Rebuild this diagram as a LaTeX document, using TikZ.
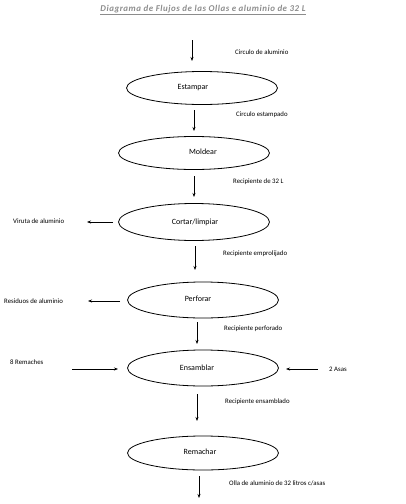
\documentclass[tikz,border=0pt]{standalone}
\usepackage{fontspec}
\setmainfont{Carlito}
\usetikzlibrary{shapes.geometric,arrows.meta}
\begin{document}
\begin{tikzpicture}[x=1pt,y=-1pt,
  proc/.style={draw,ellipse,line width=0.8pt,inner sep=0pt,minimum width=151pt,minimum height=33pt},
  ptext/.style={inner sep=0pt,font=\fontsize{8}{9}\selectfont},
  lbl/.style={anchor=west,inner sep=0pt,font=\fontsize{6.8}{8}\selectfont},
  flow/.style={line width=0.8pt,-{Stealth[length=4pt,width=3pt]}}]
\useasboundingbox (0,0) rectangle (406,504);
\node[inner sep=0pt,text=black!45,font=\fontsize{8.9}{10}\selectfont\bfseries\itshape\addfontfeature{LetterSpace=6}] (title) at (203,10) {\underline{Diagrama de Flujos de las Ollas e aluminio de 32 L}};
\node[proc] (e1) at (202,88) {};
\node[proc] (e2) at (194,153) {};
\node[proc,minimum height=37pt] (e3) at (194,222) {};
\node[proc,minimum height=36pt] (e4) at (203,300) {};
\node[proc,minimum height=36pt] (e5) at (203,368) {};
\node[proc,minimum height=34pt] (e6) at (203,453) {};
\node[ptext] (t1) at (193,88) {Estampar};
\node[ptext] (t2) at (203,152) {Moldear};
\node[ptext] (t3) at (195,222) {Cortar/limpiar};
\node[ptext] (t4) at (198,299) {Perforar};
\node[ptext] (t5) at (197,368) {Ensamblar};
\node[ptext] (t6) at (200,452) {Remachar};
% labels
\node[lbl] (l1) at (235,52) {Circulo de aluminio};
\node[lbl] (l2) at (236,115) {Circulo estampado};
\node[lbl] (l3) at (233,182) {Recipiente de 32 L};
\node[lbl] (l4) at (13,221) {Viruta de aluminio};
\node[lbl] (l5) at (223,254) {Recipiente emprolijado};
\node[lbl] (l6) at (4,301) {Residuos de aluminio};
\node[lbl] (l7) at (224,329) {Recipiente perforado};
\node[lbl] (l8) at (10,362) {8 Remaches};
\node[lbl] (l9) at (329,369) {2 Asas};
\node[lbl] (l10) at (225,402) {Recipiente ensamblado};
\node[lbl] (l11) at (229,483) {Olla de aluminio de 32 litros c/asas};
% arrow coordinates
\coordinate (a0s) at (192,40); \coordinate (a0e) at (192,61);
\coordinate (a1s) at (194,110); \coordinate (a1e) at (194,131);
\coordinate (a2s) at (194,176); \coordinate (a2e) at (194,197);
\coordinate (a3s) at (195,246); \coordinate (a3e) at (195,270);
\coordinate (a4s) at (197,322); \coordinate (a4e) at (197,344);
\coordinate (a5s) at (197,394); \coordinate (a5e) at (197,421);
\coordinate (a6s) at (199,476); \coordinate (a6e) at (199,498);
\coordinate (b1s) at (113,222); \coordinate (b1e) at (87,222);
\coordinate (b2s) at (120,301); \coordinate (b2e) at (88,301);
\coordinate (b3s) at (72,369); \coordinate (b3e) at (118,369);
\coordinate (b4s) at (318,369); \coordinate (b4e) at (286,369);
\foreach \p in {a0,a1,a2,a3,a4,a5,a6,b1,b2,b3,b4}
  \draw[flow] (\p s) -- (\p e);
\end{tikzpicture}
\end{document}
